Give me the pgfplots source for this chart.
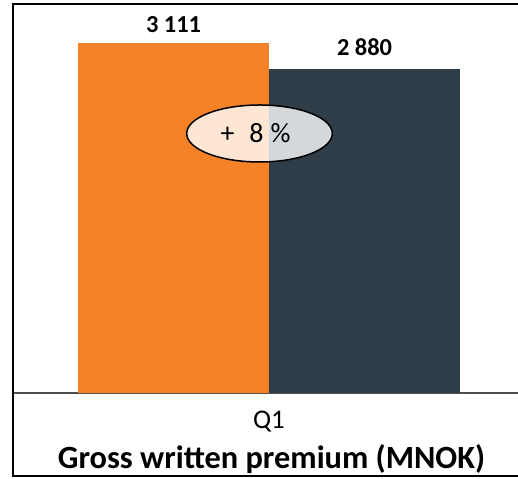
\documentclass[border=0pt]{standalone}
\usepackage{fontspec}
\setmainfont{Carlito}
\usepackage{pgfplots}
\pgfplotsset{compat=1.18}
\usetikzlibrary{shapes.geometric}
\definecolor{gworange}{RGB}{245,130,38}
\definecolor{gwdark}{RGB}{46,61,72}
\definecolor{gwaxis}{RGB}{80,80,80}
\begin{document}
\begin{tikzpicture}
\useasboundingbox (-13bp,-86bp) rectangle (505bp,393bp);
\begin{axis}[
  at={(0,0)}, anchor=south west,
  scale only axis, width=505bp, height=389bp,
  xmin=-256, xmax=249, ymin=0, ymax=3457.7,
  axis x line*=bottom, axis y line=none,
  x axis line style={gwaxis, line width=1.3bp, -},
  xtick={0}, xticklabels={\textrm{Q1}},
  major tick length=0pt,
  xticklabel style={anchor=base, yshift=-35bp, font=\fontsize{27}{29}\selectfont},
  xlabel={\textbf{Gross written premium (MNOK)}},
  xlabel style={at={(axis description cs:0.512,0)}, anchor=base, yshift=-75bp, font=\fontsize{32.5}{34}\selectfont},
  ybar, bar width=191, bar shift=0pt,
  point meta=explicit symbolic,
  nodes near coords={\pgfplotspointmeta},
  nodes near coords style={anchor=base, font=\bfseries\fontsize{24.5}{26}\selectfont, black},
  clip=false,
]
\addplot[fill=gworange, draw=none, nodes near coords style={yshift=11bp}] coordinates {(-95.5,3111) [3~111]};
\addplot[fill=gwdark, draw=none, nodes near coords style={yshift=13bp}] coordinates {(95.5,2880) [2~880]};
\node[ellipse, draw=black, line width=1.5bp, fill=white, fill opacity=0.8,
  minimum width=145.6bp, minimum height=57bp, inner sep=0pt] at (axis cs:-9.5,2306.7) {};
\node[font=\fontsize{28}{30}\selectfont, inner sep=0pt] at (axis cs:-13.5,2306.7) {+\hspace{15bp}8\hspace{7bp}\%};
\end{axis}
\draw[black, line width=2.5bp] (530bp,389bp) -- (0,389bp) -- (0,-83bp) -- (530bp,-83bp);
\end{tikzpicture}
\end{document}
